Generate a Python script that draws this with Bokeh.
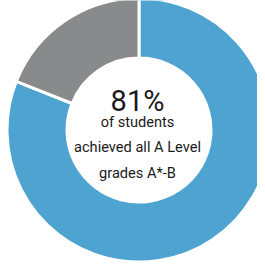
import math
from bokeh.plotting import figure
from bokeh.models import Range1d
from bokeh.core.properties import value
from bokeh.embed import file_html
from bokeh.resources import INLINE

labels = ["A*-B in all", "Other"]
values = [81, 19]
colors = ["#4fa3d1", "#898a8c"]
headline = "81%"
caption_lines = ["of students", "achieved all A Level", "grades A*-B"]

W, H = 257, 265
p = figure(width=W, height=H, output_backend="svg", toolbar_location=None,
           x_range=Range1d(0, W), y_range=Range1d(0, H), min_border=0)
p.axis.visible = False
p.grid.visible = False
p.outline_line_color = None
p.background_fill_color = "white"
p.border_fill_color = "white"

cx, cy = 138.5, H - 129.5
total = sum(values)
starts, ends = [], []
acc = 0.0
for v in values:
    starts.append(math.pi / 2 - 2 * math.pi * acc / total)
    acc += v
    ends.append(math.pi / 2 - 2 * math.pi * acc / total)

p.annular_wedge(x=cx, y=cy, inner_radius=72, outer_radius=132,
                start_angle=starts, end_angle=ends, direction="clock",
                fill_color=colors, line_color="white", line_width=3)

p.text(x=[137], y=[H - 100], text=[headline], text_font=value("Roboto"),
       text_font_size="29px", text_align="center", text_baseline="alphabetic",
       text_color="#1a1a1a")
ys = [H - 121, H - 146, H - 172]
p.text(x=[137] * 3, y=ys, text=caption_lines, text_font=value("Roboto"),
       text_font_size="14.6px", text_align="center", text_baseline="alphabetic",
       text_color="#1a1a1a")

open("out.html", "w").write(file_html(p, INLINE))
